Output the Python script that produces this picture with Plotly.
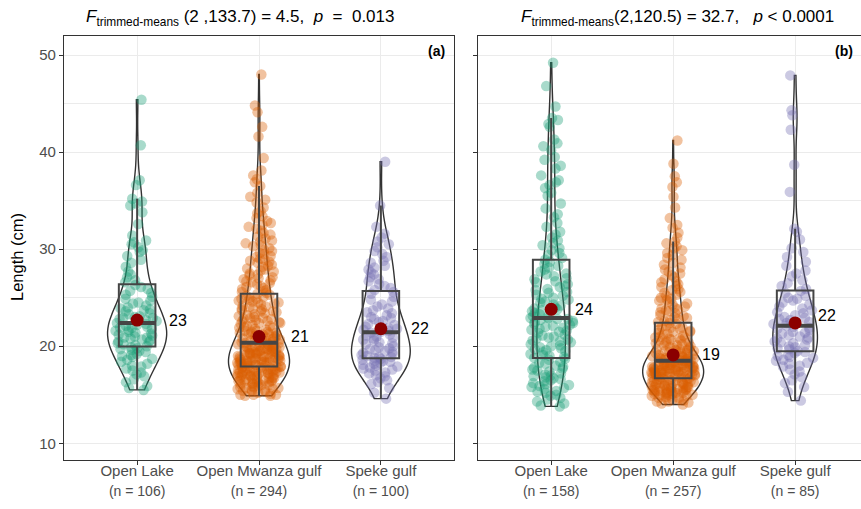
import numpy as np
import plotly.graph_objects as go

# ---------------- data ----------------
categories = ["Open Lake", "Open Mwanza gulf", "Speke gulf"]
n_labels_a = ["(n = 106)", "(n = 294)", "(n = 100)"]
n_labels_b = ["(n = 158)", "(n = 257)", "(n = 85)"]

open_lake_a = [15.5, 15.7, 15.9, 16.3, 16.6, 16.9, 17.1, 17.3, 17.5, 17.7, 17.9,
               18.0, 18.2, 18.4, 18.6, 18.7, 18.9,
               19.0, 19.1, 19.2, 19.4, 19.5, 19.6, 19.7, 19.8, 19.9,
               20.0, 20.1, 20.2, 20.3, 20.4, 20.5, 20.6, 20.7, 20.8, 20.9, 20.9,
               21.0, 21.1, 21.2, 21.3, 21.4, 21.5, 21.6, 21.7, 21.8, 21.9, 21.9,
               22.0, 22.1, 22.2, 22.3, 22.4, 22.6, 22.7, 22.8, 22.9, 22.9,
               23.0, 23.1, 23.3, 23.4, 23.6, 23.7, 23.8, 23.9,
               24.0, 24.2, 24.4, 24.5, 24.7, 24.9,
               25.1, 25.3, 25.5, 25.7, 25.9,
               26.1, 26.3, 26.6, 26.8, 27.1, 27.4, 27.7, 28.2, 28.6, 28.9,
               29.3, 29.7, 29.9, 30.2, 30.5, 30.7, 30.9, 31.4, 32.6, 33.8, 34.5, 34.7, 34.9, 35.2, 36.6,
               37.1, 40.7, 45.4]

mwanza_a = [14.9, 14.9, 15.0, 15.0,
            15.0, 15.1, 15.2, 15.3, 15.3, 15.4, 15.5, 15.5, 15.6, 15.6, 15.7, 15.7, 15.8, 15.8, 15.9, 15.9,
            16.0, 16.0, 16.1, 16.1, 16.2, 16.2, 16.3, 16.3, 16.4, 16.4, 16.4, 16.5, 16.5, 16.5, 16.6, 16.6,
            16.7, 16.7, 16.7, 16.8, 16.8, 16.9, 16.9, 16.9,
            17.0, 17.0, 17.0, 17.1, 17.1, 17.1, 17.2, 17.2, 17.2, 17.3, 17.3, 17.3, 17.4, 17.4, 17.4,
            17.5, 17.5, 17.5, 17.5, 17.6, 17.6, 17.6, 17.7, 17.7, 17.7, 17.8, 17.8, 17.8, 17.9, 17.9, 17.9,
            18.0, 18.0, 18.0, 18.1, 18.1, 18.1, 18.2, 18.2, 18.2, 18.3, 18.3, 18.3, 18.4, 18.4, 18.4, 18.4,
            18.5, 18.5, 18.5, 18.5, 18.6, 18.6, 18.6, 18.7, 18.7, 18.7, 18.8, 18.8, 18.8, 18.9, 18.9, 18.9,
            19.0, 19.0, 19.0, 19.1, 19.1, 19.1, 19.2, 19.2, 19.2, 19.3, 19.3, 19.3, 19.4, 19.4, 19.4,
            19.5, 19.5, 19.5, 19.6, 19.6, 19.6, 19.7, 19.7, 19.7, 19.8, 19.8, 19.8, 19.9, 19.9, 19.9,
            20.0, 20.0, 20.0, 20.1, 20.1, 20.2, 20.2, 20.3, 20.3, 20.3, 20.4, 20.4, 20.5, 20.5, 20.6, 20.6,
            20.7, 20.7, 20.8, 20.8, 20.9, 20.9,
            21.0, 21.0, 21.1, 21.1, 21.2, 21.2, 21.3, 21.3, 21.4, 21.4, 21.5, 21.5, 21.6, 21.6, 21.7, 21.8,
            21.9, 21.9,
            22.0, 22.1, 22.1, 22.2, 22.3, 22.4, 22.4, 22.5, 22.6, 22.6, 22.7, 22.8, 22.8, 22.9, 22.9,
            23.0, 23.1, 23.2, 23.3, 23.4, 23.5, 23.6, 23.6, 23.7, 23.8, 23.9, 23.9,
            24.0, 24.1, 24.2, 24.3, 24.4, 24.5, 24.5, 24.6, 24.7, 24.8, 24.9, 24.9,
            25.0, 25.1, 25.2, 25.3, 25.4, 25.5, 25.6, 25.7, 25.8, 25.9,
            26.0, 26.1, 26.2, 26.4, 26.5, 26.6, 26.7, 26.8, 26.9,
            27.0, 27.1, 27.3, 27.4, 27.5, 27.7, 27.8, 27.9,
            28.0, 28.2, 28.3, 28.4, 28.6, 28.7, 28.8, 28.9,
            29.0, 29.2, 29.3, 29.5, 29.6, 29.8, 29.9,
            30.1, 30.3, 30.4, 30.6, 30.8, 30.9,
            31.1, 31.3, 31.5, 31.7, 31.9,
            32.1, 32.3, 32.5, 32.7, 32.9,
            33.2, 33.4, 33.7, 33.9,
            34.3, 34.8, 35.1, 35.4, 35.8, 36.5, 36.9, 37.2, 37.6,
            38.1, 39.4, 41.6, 42.6, 44.1, 44.8, 48.0]

speke_a = [14.6, 15.2, 15.7, 16.1, 16.3, 16.5, 16.7, 16.9,
           17.0, 17.2, 17.3, 17.5, 17.6, 17.7, 17.8, 17.9,
           18.0, 18.1, 18.2, 18.3, 18.4, 18.5, 18.5, 18.6, 18.7, 18.8, 18.9, 18.9,
           19.0, 19.1, 19.2, 19.3, 19.4, 19.5, 19.6, 19.7, 19.8, 19.9,
           20.0, 20.2, 20.3, 20.4, 20.6, 20.7, 20.8, 20.9,
           21.0, 21.1, 21.2, 21.4, 21.5, 21.6, 21.7, 21.8, 21.9,
           22.0, 22.2, 22.3, 22.5, 22.6, 22.8, 22.9,
           23.0, 23.2, 23.4, 23.5, 23.7, 23.9,
           24.1, 24.3, 24.6, 24.8, 25.1, 25.4, 25.6, 25.8,
           26.0, 26.2, 26.4, 26.7, 26.9, 27.1, 27.4, 27.6, 27.9,
           28.1, 28.3, 28.6, 28.8, 29.2, 29.5, 29.8, 30.2, 30.5, 30.8,
           31.2, 31.6, 32.3, 34.5, 39.0]

open_lake_b = [13.8, 13.9, 14.1, 14.3, 14.5, 14.7, 14.9,
               15.0, 15.2, 15.3, 15.4, 15.6, 15.7, 15.8, 15.9,
               16.0, 16.1, 16.2, 16.4, 16.5, 16.6, 16.7, 16.8, 16.9,
               17.0, 17.1, 17.2, 17.4, 17.5, 17.6, 17.7, 17.8, 17.9,
               18.0, 18.2, 18.3, 18.4, 18.6, 18.7, 18.8, 18.9,
               19.0, 19.1, 19.2, 19.4, 19.5, 19.6, 19.7, 19.8, 19.9,
               20.0, 20.1, 20.2, 20.4, 20.5, 20.6, 20.7, 20.8, 20.9,
               21.0, 21.1, 21.2, 21.4, 21.5, 21.6, 21.7, 21.8, 21.9,
               22.0, 22.1, 22.2, 22.3, 22.4, 22.5, 22.6, 22.7, 22.8, 22.8, 22.9, 22.9,
               23.0, 23.1, 23.3, 23.4, 23.6, 23.7, 23.8, 23.9,
               24.0, 24.2, 24.3, 24.5, 24.6, 24.8, 24.9,
               25.0, 25.2, 25.3, 25.5, 25.6, 25.8, 25.9,
               26.1, 26.2, 26.4, 26.6, 26.7, 26.9,
               27.0, 27.2, 27.4, 27.5, 27.7, 27.9,
               28.1, 28.3, 28.5, 28.7, 28.9,
               29.1, 29.4, 29.6, 29.9, 30.1, 30.4, 30.6, 30.9,
               31.2, 31.5, 31.8, 32.3, 32.7, 33.3, 33.6, 34.2, 34.7, 35.5, 35.8,
               36.3, 36.6, 36.9, 37.1, 37.6, 38.3, 38.6, 39.2, 39.5,
               40.2, 40.6, 40.9, 41.3, 42.6, 42.9, 43.3, 43.5,
               44.7, 46.8, 49.2]

mwanza_b = [14.0, 14.1, 14.2, 14.3, 14.3, 14.4, 14.5, 14.5, 14.6, 14.7, 14.7, 14.8, 14.9, 14.9,
            15.0, 15.0, 15.0, 15.1, 15.1, 15.1, 15.2, 15.2, 15.2, 15.3, 15.3, 15.3, 15.4, 15.4, 15.4,
            15.5, 15.5, 15.5, 15.6, 15.6, 15.6, 15.7, 15.7, 15.7, 15.8, 15.8, 15.8, 15.9, 15.9, 15.9,
            16.0, 16.0, 16.0, 16.1, 16.1, 16.2, 16.2, 16.2, 16.3, 16.3, 16.3, 16.4, 16.4,
            16.5, 16.5, 16.5, 16.6, 16.6, 16.6, 16.7, 16.7, 16.8, 16.8, 16.8, 16.9, 16.9,
            17.0, 17.0, 17.0, 17.0, 17.1, 17.1, 17.1, 17.1, 17.2, 17.2, 17.2, 17.2, 17.3, 17.3, 17.3, 17.3,
            17.4, 17.4, 17.4, 17.4, 17.5, 17.5, 17.5, 17.5, 17.6, 17.6, 17.6, 17.6, 17.7, 17.7, 17.7, 17.7,
            17.8, 17.8, 17.8, 17.8, 17.9, 17.9, 17.9, 17.9,
            18.0, 18.0, 18.0, 18.0, 18.1, 18.1, 18.1, 18.2, 18.2, 18.2, 18.3, 18.3, 18.3, 18.4, 18.4, 18.4,
            18.5, 18.5, 18.5, 18.5, 18.6, 18.6, 18.6, 18.7, 18.7, 18.7, 18.8, 18.8, 18.8, 18.9, 18.9, 18.9,
            19.0, 19.0, 19.1, 19.1, 19.2, 19.2, 19.3, 19.3, 19.4, 19.4, 19.5, 19.5, 19.6, 19.6, 19.7, 19.7,
            19.8, 19.8, 19.9, 19.9,
            20.0, 20.1, 20.1, 20.2, 20.3, 20.3, 20.4, 20.5, 20.6, 20.6, 20.7, 20.8, 20.8, 20.9, 20.9,
            21.0, 21.1, 21.2, 21.3, 21.4, 21.5, 21.5, 21.6, 21.7, 21.8, 21.9, 21.9,
            22.0, 22.1, 22.3, 22.4, 22.5, 22.6, 22.7, 22.8, 22.9,
            23.0, 23.1, 23.2, 23.4, 23.5, 23.6, 23.7, 23.8, 23.9,
            24.0, 24.1, 24.3, 24.4, 24.6, 24.7, 24.8, 24.9,
            25.0, 25.2, 25.3, 25.5, 25.6, 25.8, 25.9,
            26.1, 26.2, 26.4, 26.6, 26.7, 26.9,
            27.1, 27.3, 27.5, 27.7, 27.9,
            28.1, 28.4, 28.6, 28.9, 29.1, 29.4, 29.6, 29.9, 30.1, 30.3, 30.6, 30.8,
            31.2, 31.7, 32.2, 32.5,
            33.2, 34.3, 35.4, 36.4, 36.9, 37.5, 38.8, 41.2]

speke_b = [14.4, 15.3, 15.8, 16.2, 16.5, 16.8, 17.1, 17.4, 17.6, 17.9,
           18.0, 18.2, 18.3, 18.5, 18.6, 18.8, 18.9,
           19.0, 19.1, 19.3, 19.4, 19.5, 19.7, 19.8, 19.9,
           20.0, 20.1, 20.3, 20.4, 20.5, 20.7, 20.8, 20.9,
           21.0, 21.1, 21.3, 21.4, 21.5, 21.7, 21.8, 21.9,
           22.0, 22.1, 22.3, 22.4, 22.5, 22.7, 22.8, 22.9,
           23.0, 23.2, 23.4, 23.5, 23.7, 23.9,
           24.1, 24.3, 24.5, 24.7, 24.9,
           25.0, 25.2, 25.5, 25.7, 25.9,
           26.2, 26.5, 26.8, 27.2, 27.5, 27.8, 28.3, 28.7, 29.2, 29.7,
           30.1, 31.0, 31.8, 32.1,
           35.9, 38.7, 42.3, 43.8, 44.3, 47.9]

means_a = [22.7, 21.0, 21.8]
means_b = [23.8, 19.1, 22.4]
mean_labels_a = ["23", "21", "22"]
mean_labels_b = ["24", "19", "22"]

title_a = "<i>F</i><sub>trimmed-means</sub> (2 ,133.7) = 4.5,  <i>p</i>  =  0.013"
title_b = "<i>F</i><sub>trimmed-means</sub>(2,120.5) = 32.7,   <i>p</i> < 0.0001"
y_title = "Length (cm)"
y_ticks = [10, 20, 30, 40, 50]
y_minor = [15, 25, 35, 45]

# ---------------- style ----------------
COLORS = ["#1B9E77", "#D95F02", "#7570B3"]
FONT = "Liberation Sans, Arial, sans-serif"
W, H = 861, 509
BOX_W = 0.3
VIOLIN_W = 0.5
label_dx_a = [30, 30, 28]
label_dx_b = [22, 27, 21]
label_dy_b = [0, 0, 7]


def bw_nrd0(v):
    v = np.asarray(v, dtype=float)
    sd = v.std(ddof=1)
    q75, q25 = np.percentile(v, [75, 25])
    lo = min(sd, (q75 - q25) / 1.34)
    return 0.9 * lo * len(v) ** -0.2


def kde_peak(v, bw):
    v = np.asarray(v, dtype=float)
    grid = np.linspace(v.min(), v.max(), 512)
    d = np.exp(-0.5 * ((grid[:, None] - v[None, :]) / bw) ** 2).sum(axis=1)
    return (d / (len(v) * bw * np.sqrt(2 * np.pi))).max()


fig = go.Figure()
pos = list(range(len(categories)))

panels = [
    ("x", "y", [open_lake_a, mwanza_a, speke_a], means_a, mean_labels_a, label_dx_a, [0, 0, 0]),
    ("x2", "y2", [open_lake_b, mwanza_b, speke_b], means_b, mean_labels_b, label_dx_b, label_dy_b),
]

annotations = []
for xa, ya, sets, means, mlabels, dxs, dys in panels:
    bws = [bw_nrd0(v) for v in sets]
    peaks = [kde_peak(v, b) for v, b in zip(sets, bws)]
    top = max(peaks)
    for p, vals, col, bw, pk in zip(pos, sets, COLORS, bws, peaks):
        # violin scaled by area (equal area, widest density -> full width)
        fig.add_trace(go.Violin(
            x=[p] * len(vals), y=vals, xaxis=xa, yaxis=ya,
            width=VIOLIN_W * pk / top, scalemode="width", spanmode="hard",
            bandwidth=bw, points=False,
            line=dict(color="#333333", width=1.4),
            fillcolor="rgba(255,255,255,0)",
            box_visible=False, meanline_visible=False,
            showlegend=False, hoverinfo="skip",
        ))
        # jittered raw points
        fig.add_trace(go.Box(
            x=[p] * len(vals), y=vals, xaxis=xa, yaxis=ya,
            width=VIOLIN_W, boxpoints="all", pointpos=0, jitter=0.72,
            line=dict(color="rgba(0,0,0,0)", width=0),
            fillcolor="rgba(0,0,0,0)",
            marker=dict(color=col, opacity=0.38, size=10.5, line=dict(width=0)),
            showlegend=False, hoverinfo="skip",
        ))
        # box plot
        fig.add_trace(go.Box(
            x=[p] * len(vals), y=vals, xaxis=xa, yaxis=ya,
            width=BOX_W, boxpoints="outliers", whiskerwidth=0,
            marker=dict(opacity=0, size=1),
            line=dict(color="#454545", width=2),
            fillcolor="rgba(255,255,255,0)",
            showlegend=False, hoverinfo="skip",
        ))
        med = float(np.median(vals))
        fig.add_trace(go.Scatter(
            x=[p - BOX_W / 2, p + BOX_W / 2], y=[med, med], xaxis=xa, yaxis=ya,
            mode="lines", line=dict(color="#454545", width=4),
            showlegend=False, hoverinfo="skip",
        ))
    fig.add_trace(go.Scatter(
        x=pos, y=means, xaxis=xa, yaxis=ya, mode="markers",
        marker=dict(color="#8B0000", size=13), showlegend=False, hoverinfo="skip",
    ))
    for p, m, lab, dx, dy in zip(pos, means, mlabels, dxs, dys):
        annotations.append(dict(
            x=p, y=m, xref=xa, yref=ya, text=lab, showarrow=False,
            xanchor="left", yanchor="middle", xshift=dx, yshift=dy,
            font=dict(size=16, color="black", family=FONT),
        ))

# titles and tags
annotations += [
    dict(x=241 / W, y=1 - 18 / H, xref="paper", yref="paper", text=title_a, showarrow=False,
         xanchor="center", yanchor="middle", font=dict(size=17, color="black", family=FONT)),
    dict(x=677 / W, y=1 - 18 / H, xref="paper", yref="paper", text=title_b, showarrow=False,
         xanchor="center", yanchor="middle", font=dict(size=17, color="black", family=FONT)),
    dict(x=447 / W, y=1 - 51 / H, xref="paper", yref="paper", text="<b>(a)</b>", showarrow=False,
         xanchor="right", yanchor="middle", font=dict(size=14, color="black", family=FONT)),
    dict(x=855 / W, y=1 - 51 / H, xref="paper", yref="paper", text="<b>(b)</b>", showarrow=False,
         xanchor="right", yanchor="middle", font=dict(size=14, color="black", family=FONT)),
    dict(x=17 / W, y=1 - 257 / H, xref="paper", yref="paper", text=y_title, showarrow=False,
         textangle=-90, xanchor="center", yanchor="middle", font=dict(size=16.5, color="black", family=FONT)),
]

yd = [1 - 460 / H, 1 - 36 / H]
common_x = dict(
    tickvals=pos, showgrid=True, gridcolor="#EBEBEB", gridwidth=1.3,
    showline=True, linecolor="#333333", linewidth=1.1, mirror=True,
    ticks="outside", ticklen=4, tickcolor="#333333", tickwidth=1.1, ticklabelstandoff=-7,
    tickfont=dict(size=15, color="#4D4D4D", family=FONT), zeroline=False,
)
common_y = dict(
    range=[8.28, 51.96], tickvals=y_ticks, showgrid=True, gridcolor="#EBEBEB", gridwidth=1.3,
    minor=dict(tickvals=y_minor, showgrid=True, gridcolor="#EBEBEB", gridwidth=0.8),
    showline=True, linecolor="#333333", linewidth=1.1,
    ticks="outside", ticklen=4, tickcolor="#333333", tickwidth=1.1,
    tickfont=dict(size=15, color="#4D4D4D", family=FONT), zeroline=False,
)


def tick_text(ns):
    return [f"{c}<br><span style='font-size:14px'>{n}</span>" for c, n in zip(categories, ns)]


fig.update_layout(
    width=W, height=H, margin=dict(l=0, r=0, t=0, b=0),
    paper_bgcolor="white", plot_bgcolor="white",
    violinmode="overlay", boxmode="overlay",
    font=dict(family=FONT),
    xaxis=dict(common_x, domain=[64 / W, 454 / W], range=[-0.6, 2.6], anchor="y",
               ticktext=tick_text(n_labels_a)),
    xaxis2=dict(common_x, domain=[478 / W, 1.0], range=[-0.6, 2.54], anchor="y2",
                ticktext=tick_text(n_labels_b)),
    yaxis=dict(common_y, domain=yd, anchor="x", mirror=True),
    yaxis2=dict(common_y, domain=yd, anchor="x2", mirror=False, showticklabels=False),
    annotations=annotations,
)

fig.write_html("out.html", config={"displayModeBar": False},
               post_script="document.body.style.margin='0px';document.body.style.overflow='hidden';")
